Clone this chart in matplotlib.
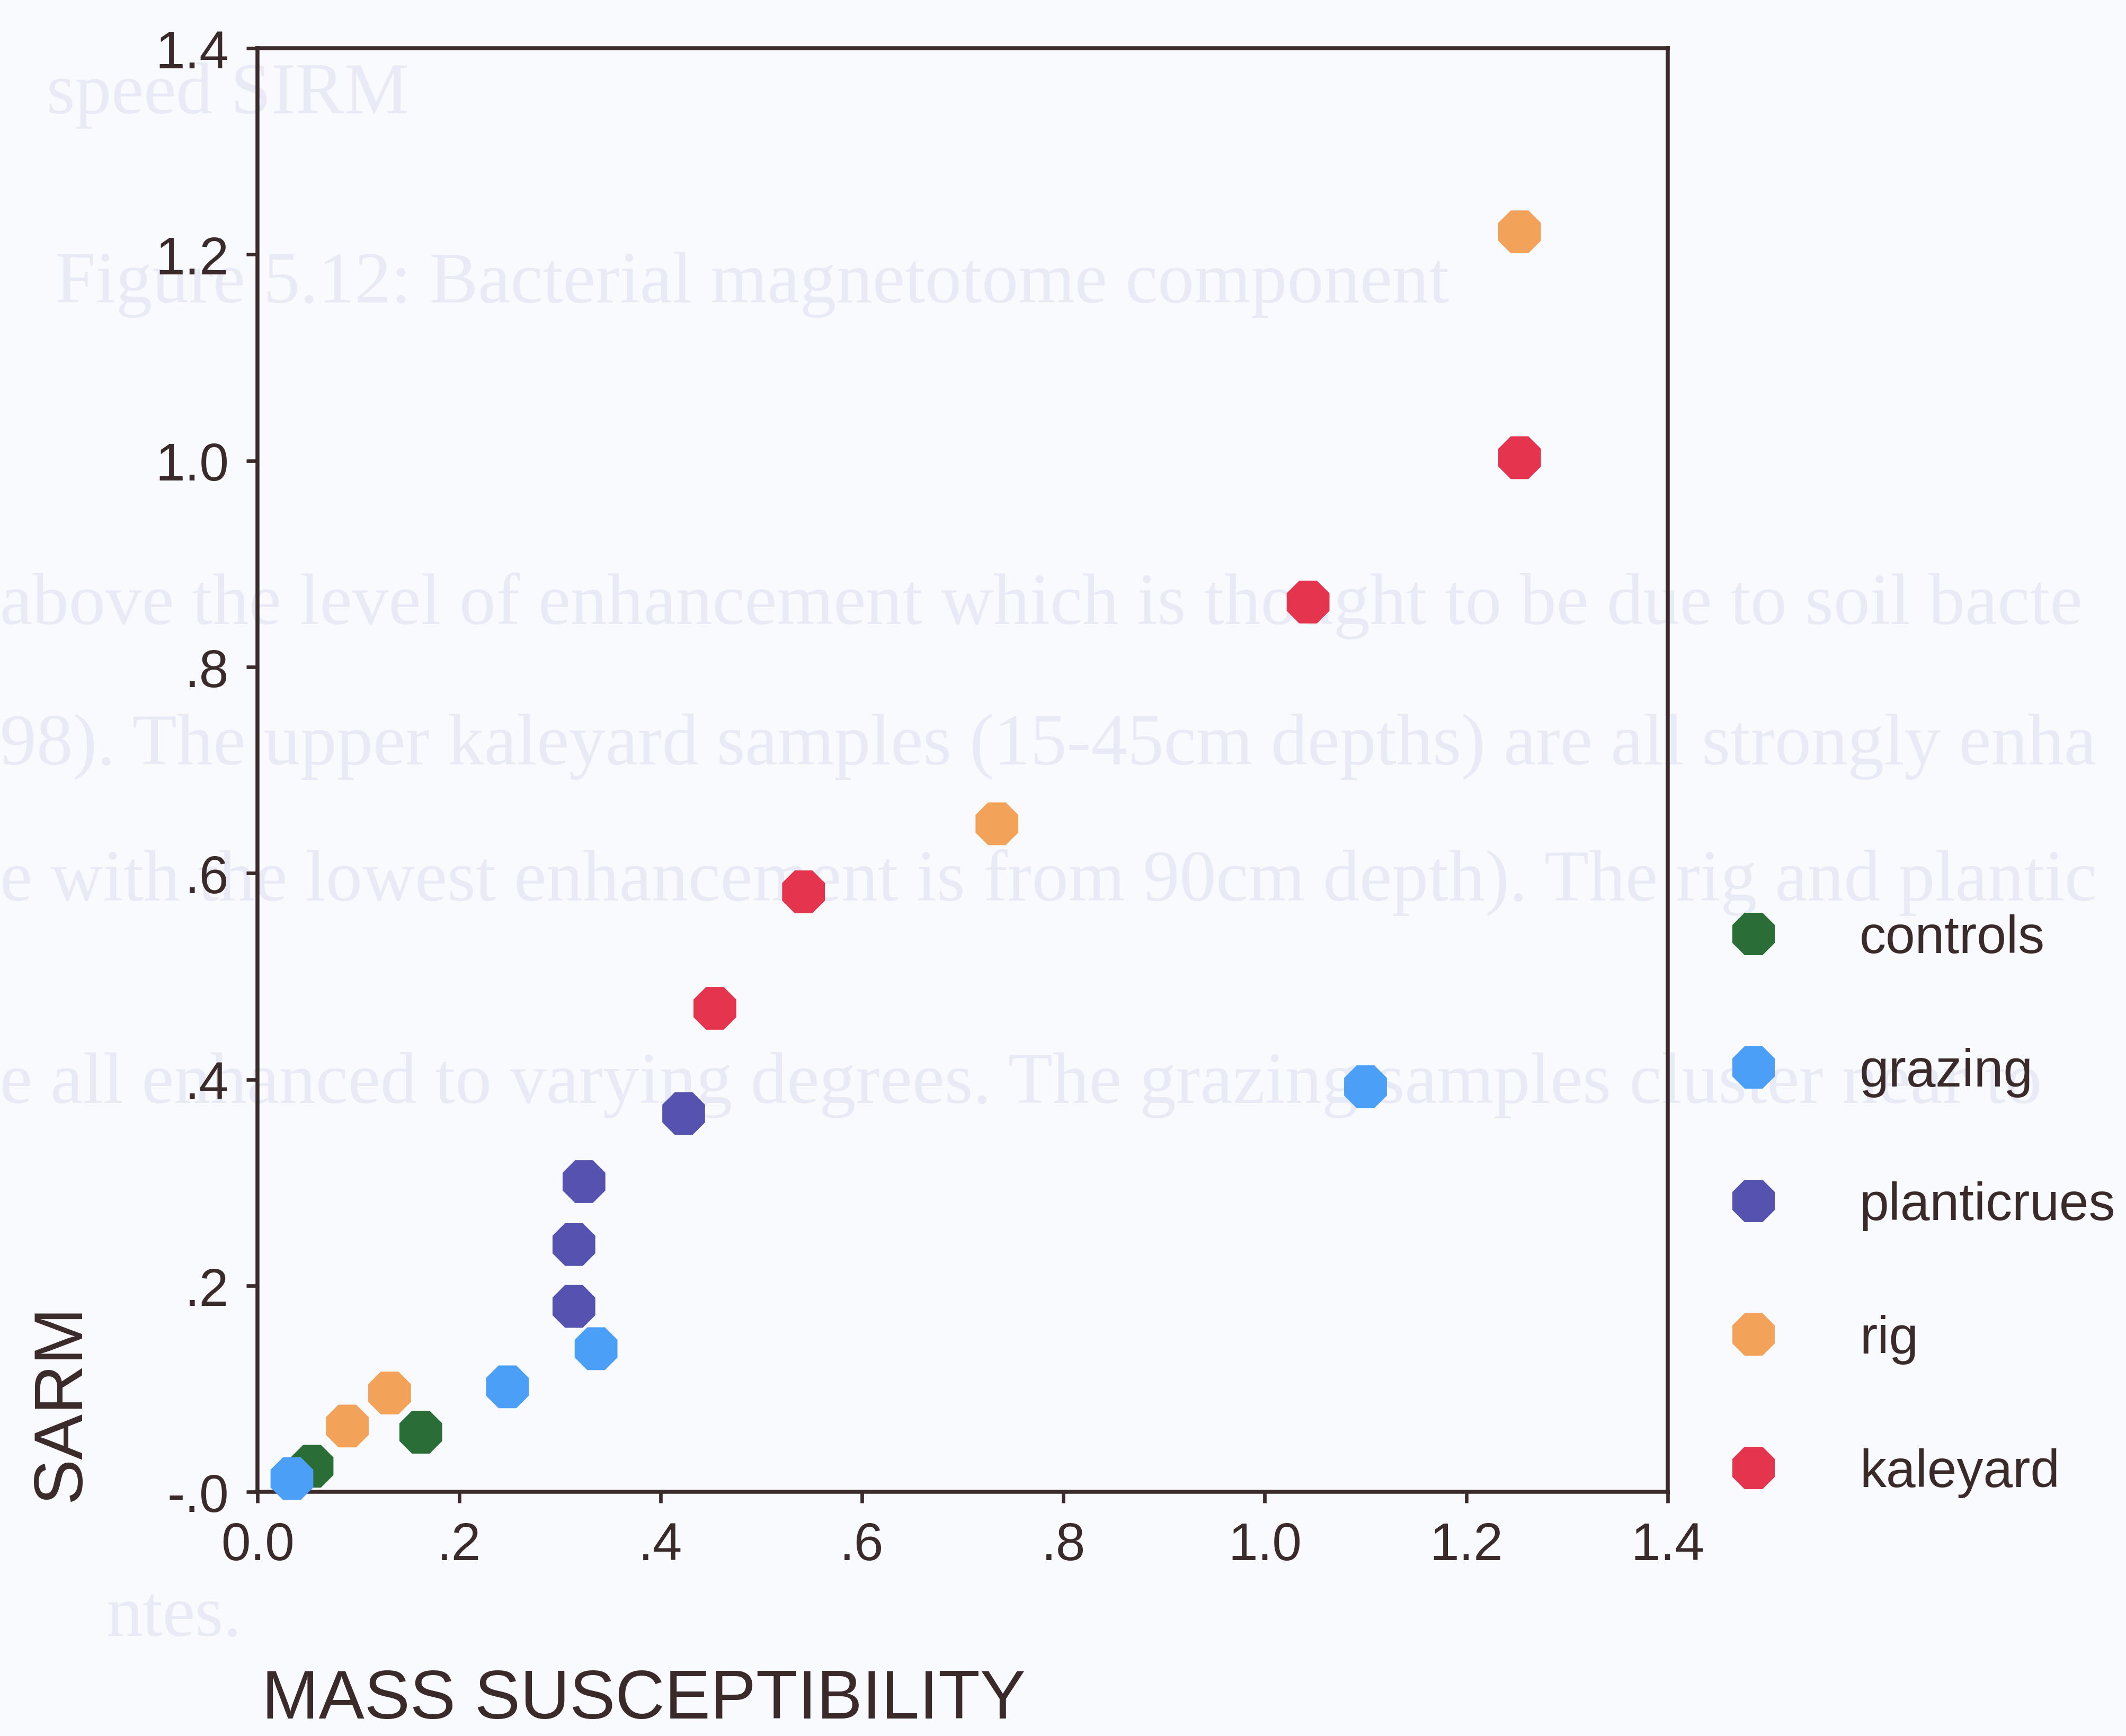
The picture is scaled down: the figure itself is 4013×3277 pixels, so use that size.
import numpy as np
import matplotlib as mpl
mpl.use('Agg')
import matplotlib.pyplot as plt
from matplotlib.lines import Line2D

# data
groups = ['controls', 'grazing', 'planticrues', 'rig', 'kaleyard']
colors = ['#2b6d37', '#4c9ff6', '#5652b0', '#f3a25a', '#e5344e']

controls_x = [0.162, 0.054]
controls_y = [0.058, 0.025]
grazing_x = [1.100, 0.336, 0.248, 0.034]
grazing_y = [0.393, 0.139, 0.102, 0.013]
planticrues_x = [0.423, 0.324, 0.314, 0.314]
planticrues_y = [0.367, 0.301, 0.240, 0.180]
rig_x = [1.253, 0.734, 0.131, 0.089]
rig_y = [1.222, 0.648, 0.096, 0.064]
kaleyard_x = [1.253, 1.043, 0.542, 0.454]
kaleyard_y = [1.003, 0.863, 0.582, 0.469]

xs = [controls_x, grazing_x, planticrues_x, rig_x, kaleyard_x]
ys = [controls_y, grazing_y, planticrues_y, rig_y, kaleyard_y]

ticks = [0.0, 0.2, 0.4, 0.6, 0.8, 1.0, 1.2, 1.4]
xtick_labels = ['0.0', '.2', '.4', '.6', '.8', '1.0', '1.2', '1.4']
ytick_labels = ['-.0', '.2', '.4', '.6', '.8', '1.0', '1.2', '1.4']

# faint text showing through from the other side of the scanned page
ghost_lines = [
    'speed SIRM',
    'Figure 5.12: Bacterial magnetotome component',
    'above the level of enhancement which is thought to be due to soil bacte',
    '98). The upper kaleyard samples (15-45cm depths) are all strongly enha',
    'e with the lowest enhancement is from 90cm depth). The rig and plantic',
    'e all enhanced to varying degrees. The grazing samples cluster near to',
    'ntes.',
]
ghost_pos = [(0.022, 0.945), (0.026, 0.836), (0.0, 0.651), (0.0, 0.570),
             (0.0, 0.492), (0.0, 0.375), (0.05, 0.068)]

bg = '#f9fafe'
ink = '#3a2a2a'
plt.rcParams['font.family'] = ['Liberation Sans', 'DejaVu Sans']

fig = plt.figure(figsize=(4013 / 300, 3278 / 300), dpi=300, facecolor=bg)

for txt, (gx, gy) in zip(ghost_lines, ghost_pos):
    fig.text(gx, gy, txt, fontsize=33, family='Liberation Serif', color='#e8eaf5',
             ha='left', va='center', zorder=-5)

ax = fig.add_axes([0.1212, 0.1405, 0.7844 - 0.1212, 0.9719 - 0.1405])
ax.set_facecolor('none')

for g, c, x, y in zip(groups, colors, xs, ys):
    ax.scatter(x, y, s=440, marker='8', color=c, edgecolors='none', label=g,
               zorder=3, clip_on=False)

ax.set_xlim(0, 1.4)
ax.set_ylim(0, 1.4)
ax.set_xticks(ticks)
ax.set_xticklabels(xtick_labels)
ax.set_yticks(ticks)
ax.set_yticklabels(ytick_labels)
ax.tick_params(axis='both', labelsize=24, colors=ink, length=5, width=1.6,
               direction='out', pad=8)
for sp in ax.spines.values():
    sp.set_color(ink)
    sp.set_linewidth(1.8)

fig.text(0.123, 0.002, 'MASS SUSCEPTIBILITY', fontsize=31, color=ink,
         ha='left', va='bottom')
fig.text(0.029, 0.192, 'SARM', fontsize=31, color=ink, rotation=90,
         ha='center', va='center')

handles = [Line2D([], [], marker='8', linestyle='none', markersize=21,
                  markerfacecolor=c, markeredgecolor='none') for c in colors]
leg = fig.legend(handles, groups, loc='upper left', bbox_to_anchor=(0.8024, 0.4856),
                 frameon=False, fontsize=24, handletextpad=1.5, labelspacing=1.58,
                 handlelength=1.0, borderaxespad=0)
for t in leg.get_texts():
    t.set_color(ink)

fig.savefig('out.png', dpi=300, facecolor=bg)
plt.close()
